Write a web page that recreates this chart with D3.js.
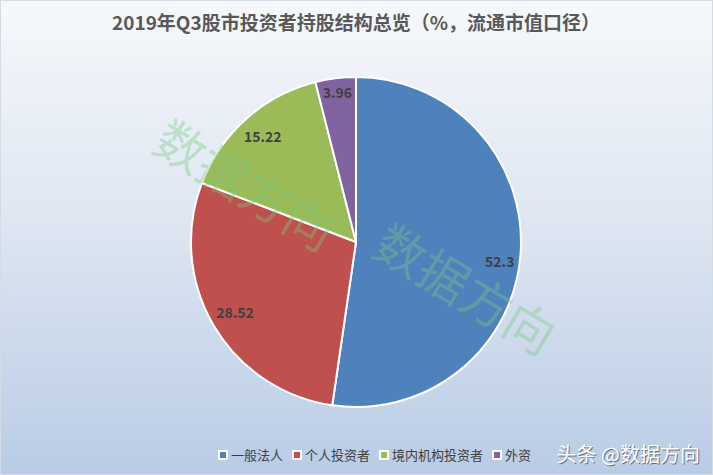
<!DOCTYPE html>
<html><head><meta charset="utf-8">
<script src="https://cdn.jsdelivr.net/npm/d3@7"></script>
<style>html,body{margin:0;padding:0;}svg{display:block;}</style>
</head><body>
<script>
const categories = ["一般法人","个人投资者","境内机构投资者","外资"];
const values = [52.3, 28.52, 15.22, 3.96];
const labels = ["52.3","28.52","15.22","3.96"];
const colors = ["#4f81bd","#c0504d","#9bbb59","#8064a2"];
const title = "2019年Q3股市投资者持股结构总览（%，流通市值口径）";

const W = 713, H = 475;
const svg = d3.select("body").append("svg").attr("width", W).attr("height", H);
const defs = svg.append("defs");
const bg = defs.append("linearGradient").attr("id","bg").attr("x1",0).attr("y1",0).attr("x2",0).attr("y2",1);
bg.append("stop").attr("offset","0%").attr("stop-color","#f6f8fb");
bg.append("stop").attr("offset","45%").attr("stop-color","#dfe7f2");
bg.append("stop").attr("offset","100%").attr("stop-color","#b9cce5");
svg.append("rect").attr("width",W).attr("height",H).attr("fill","url(#bg)");
svg.append("rect").attr("x",0.5).attr("y",0.5).attr("width",W-1).attr("height",H-1).attr("fill","none").attr("stroke","#d4dbe4");

const font = "'Noto Sans CJK SC', 'Noto Sans', sans-serif";
svg.append("text").attr("x",356).attr("y",30).attr("text-anchor","middle")
  .attr("font-family",font).attr("font-weight","bold").attr("font-size",19)
  .attr("fill","#595959").text(title);

const cx = 356, cy = 242, R = 165;
const pie = d3.pie().sort(null).value(d => d)(values);
const arc = d3.arc().innerRadius(0).outerRadius(R);
const g = svg.append("g").attr("transform",`translate(${cx},${cy})`);
g.selectAll("path").data(pie).join("path")
  .attr("d", arc).attr("fill",(d,i)=>colors[i])
  .attr("stroke","#fff").attr("stroke-width",2).attr("stroke-linejoin","round");

function labelPos(d){
  const frac = (d.endAngle - d.startAngle) / (2*Math.PI);
  const r = frac < 0.08 ? R*0.91 : (frac > 0.5 ? R*0.88 : R*0.85);
  let a = (d.startAngle + d.endAngle)/2;
  if (frac > 0.5) a += 0.07;
  return [r*Math.sin(a), -r*Math.cos(a)];
}
g.selectAll("text.lbl").data(pie).join("text").attr("class","lbl")
  .attr("transform",d=>{ const c = labelPos(d); return `translate(${c[0]},${c[1]})`; })
  .attr("text-anchor","middle").attr("dy","0.35em")
  .attr("font-family",font).attr("font-weight","bold").attr("font-size",14)
  .attr("fill","#404040").text((d,i)=>labels[i]);

// watermarks
function watermark(x,y){
  svg.append("text").attr("transform",`translate(${x},${y}) rotate(31)`)
    .attr("font-family",font).attr("font-size",50)
    .attr("fill","rgb(120,200,130)").attr("fill-opacity",0.38)
    .text("数据方向");
}
watermark(150,150);
watermark(370,254);

// legend
const legend = svg.append("g").attr("font-family",font).attr("font-size",13).attr("fill","#404040");
let lx = 219;
categories.forEach((c,i)=>{
  legend.append("rect").attr("x",lx).attr("y",451).attr("width",8).attr("height",8)
    .attr("fill",colors[i]).attr("stroke","#fff").attr("stroke-width",2);
  const t = legend.append("text").attr("x",lx+12).attr("y",460).text(c);
  const w = t.node().getComputedTextLength();
  lx += 12 + w + 10;
});

// credit
svg.append("text").attr("x",700).attr("y",462).attr("text-anchor","end")
  .attr("font-family",font).attr("font-size",20).attr("fill","#333").attr("opacity",0.6)
  .attr("transform","translate(1,1)").text("头条 @数据方向");
svg.append("text").attr("x",700).attr("y",462).attr("text-anchor","end")
  .attr("font-family",font).attr("font-size",20).attr("fill","#fff")
  .text("头条 @数据方向");
</script>
</body></html>
